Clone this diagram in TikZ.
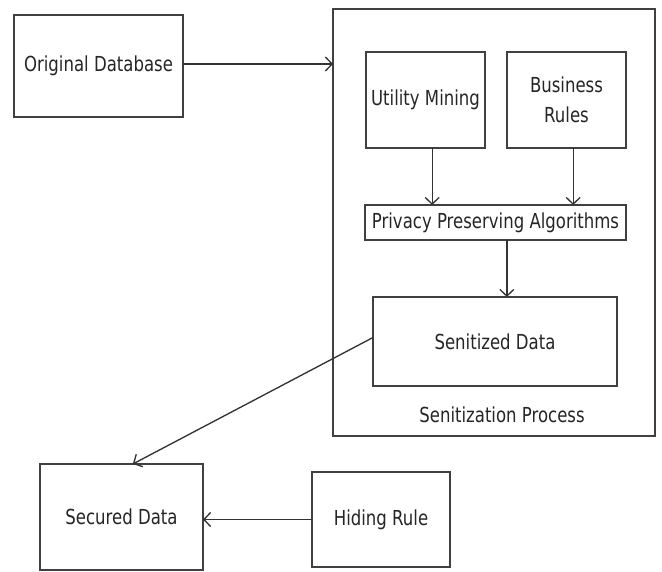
\documentclass[tikz,border=0pt]{standalone}
\usepackage{fontspec}
\setmainfont{DejaVu Sans}[FakeStretch=0.8]
\usetikzlibrary{arrows.meta}

\tikzset{
	blk/.style={draw=black!75, line width=1.3pt, inner sep=0pt, outer sep=0pt, align=center, text=black!85},
	sz/.style 2 args={minimum width=#1*0.75pt, minimum height=#2*0.75pt},
	flow/.style={draw=black!80, line width=1pt, -{Straight Barb[length=5pt,width=10.5pt]}},
}

\begin{document}
\begin{tikzpicture}[x=0.75pt, y=-0.75pt, font=\fontsize{15.5}{22.5}\selectfont]
	\useasboundingbox (0, 0) rectangle (662, 572);
	\fill [white] (0, 0) rectangle (662, 572);
	% sanitization block and its parts
	\node [blk, sz={322}{427}] (sanit) at (494, 222.5) {};
	\node [text=black!85] (sanitlbl) at (502, 415) {Senitization Process};
	\node [blk, sz={119}{96}] (util) at (425.5, 100) {Utility Mining};
	\node [blk, sz={119}{96}] (rules) at (566.5, 100) {Business\\Rules};
	\node [blk, sz={261}{35}] (ppa) at (495.5, 222.5) {Privacy Preserving Algorithms};
	\node [blk, sz={244}{89}] (sdata) at (495, 341.5) {Senitized Data};
	% outside blocks
	\node [blk, sz={169}{102}] (orig) at (98.5, 66) {Original Database};
	\node [blk, sz={163}{106}] (secured) at (121.5, 517) {Secured Data};
	\node [blk, sz={138}{95}] (hiding) at (381, 519.5) {Hiding Rule};
	% arrows
	\draw [flow] ([yshift=1.5pt]orig.east) -- ([yshift=1.5pt]orig.east -| sanit.west);
	\draw [flow] ([xshift=5pt]util.south) -- ([xshift=5pt]util.south |- ppa.north);
	\draw [flow] ([xshift=5pt]rules.south) -- ([xshift=5pt]rules.south |- ppa.north);
	\draw [flow] ([xshift=8.5pt]ppa.south) -- ([xshift=8.5pt]ppa.south |- sdata.north);
	\draw [flow] ([yshift=3pt]sdata.west) -- ([xshift=8.5pt]secured.north);
	\draw [flow] (hiding.west) -- (hiding.west -| secured.east);
\end{tikzpicture}
\end{document}
